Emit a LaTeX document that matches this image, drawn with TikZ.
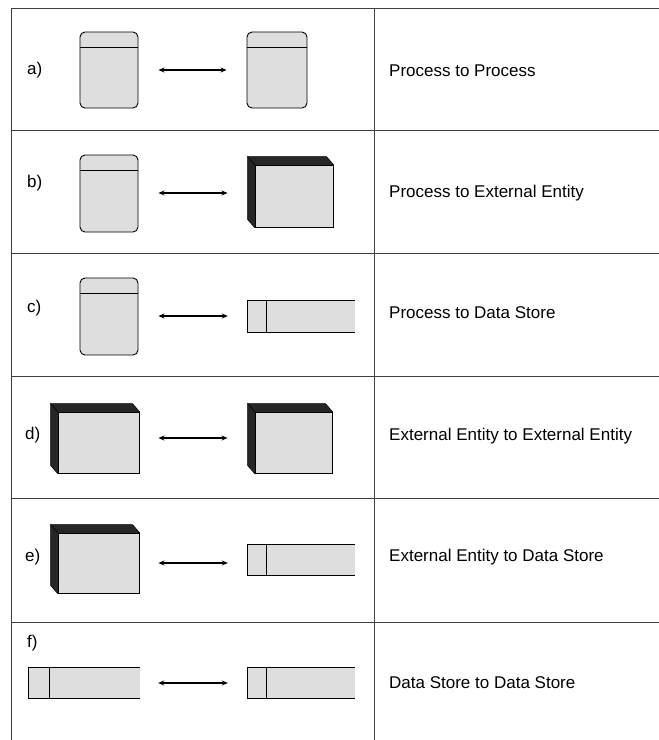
\documentclass[tikz,border=0pt]{standalone}
\usepackage{fontspec}
\setmainfont{Liberation Sans}
\usetikzlibrary{arrows.meta}
\tikzset{
  grid/.style={draw=black!75, line width=0.9pt},
  proc/.style={draw=black, line width=0.9pt, fill=black!13, rounded corners=5pt, rectangle, inner sep=0pt},
  eeface/.style={draw=black, line width=0.9pt, fill=black!13, rectangle, inner sep=0pt},
  eeshade/.style={fill=black!85, draw=black, line width=0.5pt},
  dsfill/.style={fill=black!13, rectangle, inner sep=0pt},
  dsline/.style={draw=black, line width=0.9pt},
  arr/.style={{Stealth[length=6pt,width=5pt]}-{Stealth[length=6pt,width=5pt]}, line width=1.2pt},
  lbl/.style={anchor=west, font=\fontsize{17}{19}\selectfont, inner sep=0pt},
  rowlbl/.style={anchor=west, font=\fontsize{17}{19}\selectfont, inner sep=0pt}
}
\newcommand{\prochdr}[1]{\draw[line width=0.9pt] ([yshift=-16pt]#1.north west) -- ([yshift=-16pt]#1.north east);}
\newcommand{\eeshadow}[1]{\draw[eeshade] (#1.north west) -- ++(-7pt,8pt) -- ([xshift=-7pt,yshift=8pt]#1.north east) -- (#1.north east) -- cycle;
  \draw[eeshade] (#1.north west) -- ++(-7pt,8pt) -- ([xshift=-7pt,yshift=8pt]#1.south west) -- (#1.south west) -- cycle;}
\newcommand{\dsborder}[2]{\draw[dsline] (#1.north east) -- (#1.north west) -- (#1.south west) -- (#1.south east);
  \draw[dsline] ([xshift=#2]#1.north west) -- ([xshift=#2]#1.south west);}
\begin{document}
\begin{tikzpicture}[x=1pt,y=-1pt]
\useasboundingbox (0,0) rectangle (659,740);
% grid
\draw[grid] (11,740) -- (11,8) -- (659,8);
\draw[grid] (374,8) -- (374,740);
\foreach \yy in {130,253,376,498,622} {\draw[grid] (11,\yy) -- (659,\yy);}
% row labels
\node[rowlbl] (la) at (27,70) {a)};
\node[rowlbl] (lb) at (27,183) {b)};
\node[rowlbl] (lc) at (27,308) {c)};
\node[rowlbl] (ld) at (25,435) {d)};
\node[rowlbl] (le) at (25,557) {e)};
\node[rowlbl] (lf) at (27,643) {f)};
% right texts
\node[lbl] (ta) at (389,71) {Process to Process};
\node[lbl] (tb) at (389,193) {Process to External Entity};
\node[lbl] (tc) at (389,313) {Process to Data Store};
\node[lbl] (td) at (389,436) {External Entity to External Entity};
\node[lbl] (te) at (389,557) {External Entity to Data Store};
\node[lbl] (tf) at (389,683) {Data Store to Data Store};
% row a
\node[proc, minimum width=58pt, minimum height=76pt] (pa1) at (109,70) {};
\node[proc, minimum width=60pt, minimum height=76pt] (pa2) at (277,70) {};
\prochdr{pa1}\prochdr{pa2}
\draw[arr, shorten <=20pt, shorten >=20pt] (pa1.east) -- (pa1.east -| pa2.west);
% row b
\node[proc, minimum width=58pt, minimum height=77pt] (pb) at (109,193.5) {};
\prochdr{pb}
\node[eeface, minimum width=78pt, minimum height=62pt] (eb) at (294,196) {};
\eeshadow{eb}
\draw[arr, shorten <=20pt, shorten >=27pt] ([yshift=0.5pt]pb.east) -- ([yshift=0.5pt]pb.east -| eb.west);
% row c
\node[proc, minimum width=58pt, minimum height=77pt] (pc) at (109,316.5) {};
\prochdr{pc}
\node[dsfill, minimum width=107pt, minimum height=31pt] (dc) at (301.5,316.5) {};
\dsborder{dc}{19pt}
\draw[arr, shorten <=20pt, shorten >=20pt] ([yshift=0.5pt]pc.east) -- ([yshift=0.5pt]pc.east -| dc.west);
% row d
\node[eeface, minimum width=81pt, minimum height=61pt] (ed1) at (98.5,442.5) {};
\eeshadow{ed1}
\node[eeface, minimum width=77pt, minimum height=61pt] (ed2) at (293.5,442.5) {};
\eeshadow{ed2}
\draw[arr, shorten <=19pt, shorten >=27pt] ([yshift=4.5pt]ed1.east) -- ([yshift=4.5pt]ed1.east -| ed2.west);
% row e
\node[eeface, minimum width=81pt, minimum height=60pt] (ee) at (98.5,563) {};
\eeshadow{ee}
\node[dsfill, minimum width=107pt, minimum height=30pt] (de) at (301.5,560) {};
\dsborder{de}{19pt}
\draw[arr, shorten <=19pt, shorten >=20pt] (ee.east) -- (ee.east -| de.west);
% row f
\node[dsfill, minimum width=111pt, minimum height=30pt] (df1) at (84.5,683) {};
\dsborder{df1}{21pt}
\node[dsfill, minimum width=107pt, minimum height=30pt] (df2) at (301.5,683) {};
\dsborder{df2}{19pt}
\draw[arr, shorten <=18pt, shorten >=20pt] (df1.east) -- (df2.west);
\end{tikzpicture}
\end{document}
